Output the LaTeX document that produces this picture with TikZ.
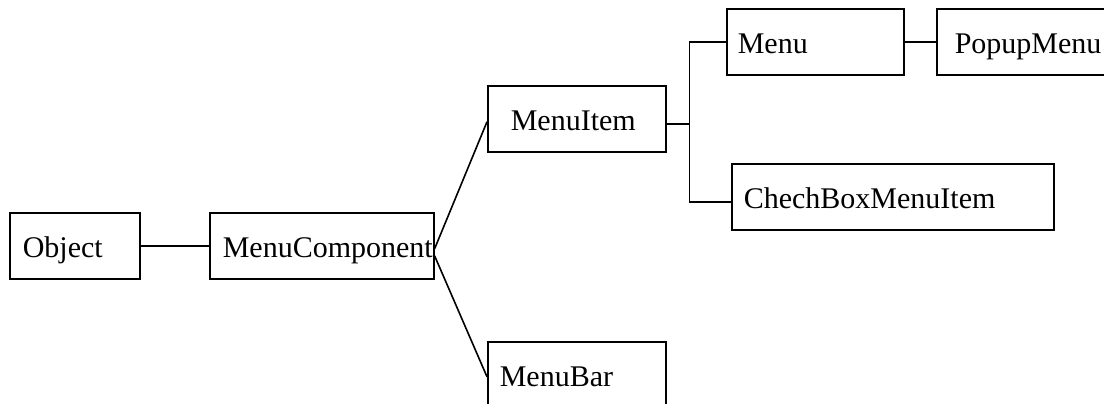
\documentclass[tikz,border=0pt]{standalone}
\usepackage{fontspec}
\setmainfont{Liberation Serif}
\usetikzlibrary{positioning}

\begin{document}
\begin{tikzpicture} [
      x = 1pt, y = -1pt,
      line width = 1.6pt,
      every node/.style = { draw, rectangle, anchor = north west, align = left,
        inner xsep = 0pt, inner ysep = 0pt, minimum height = 66pt,
        text height = 24pt, text depth = 0pt,
        font = \fontsize{30}{30}\selectfont },
      pad/.style = { execute at begin node = {\hspace*{#1}} }
      ]
      \useasboundingbox (0,0) rectangle (1104,404);
      \clip (0,0) rectangle (1104,404);

      \node [text width = 130pt, pad = 13pt] (obj) at (9,212) {Object};
      \node [text width = 224pt, pad = 13pt] (comp) at (209,212) {MenuComponent};
      \node [text width = 178pt, pad = 23pt] (item) at (487,85) {MenuItem};
      \node [text width = 178pt, pad = 12pt] (bar) at (487,341) {MenuBar};
      \node [text width = 177pt, pad = 11pt] (menu) at (726,8) {Menu};
      \node [text width = 190pt, pad = 18pt] (popup) at (936,8) {PopupMenu};
      \node [text width = 322pt, pad = 12pt] (check) at (731,163) {ChechBoxMenuItem};
      \coordinate [right = 23pt of item.east, yshift = -5pt] (fork);

      \draw (obj.east) -- (comp.west);
      \draw ([yshift=-3pt]comp.east) -- ([yshift=-3pt]item.west);
      \draw ([yshift=-10pt]comp.east) -- ([yshift=-2pt]bar.west);
      \draw ([yshift=-5pt]item.east) -- (fork);
      \draw (menu.west) -| (fork) |- ([yshift=-5pt]check.west);
      \draw (menu.east) -- (popup.west);
    \end{tikzpicture}
\end{document}
